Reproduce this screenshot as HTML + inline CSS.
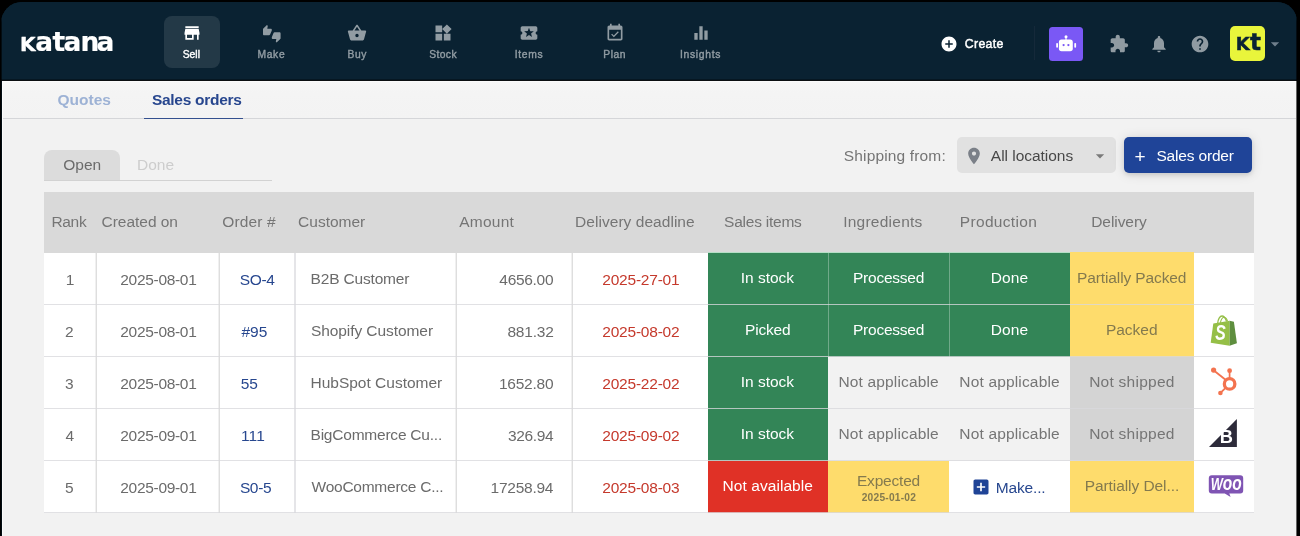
<!DOCTYPE html>
<html lang="en">
<head>
<meta charset="utf-8">
<title>Katana - Sales orders</title>
<style>
*{box-sizing:border-box;margin:0;padding:0}
html,body{width:1300px;height:536px;overflow:hidden;background:#000}
body{font-family:"Liberation Sans",sans-serif;position:relative}
.app{position:absolute;left:1px;top:2px;width:1296px;height:540px;border-radius:21px 20px 0 0;overflow:hidden;background:#0a2232}
.pg{position:absolute;left:-1px;top:-2px;width:1300px;height:542px}
.t{position:absolute;white-space:nowrap;line-height:20px}
.b{position:absolute}
svg{display:block;position:absolute;overflow:visible}
</style>
</head>
<body>
<div class="app"><div class="pg">
<div class="b" style="left:0px;top:0px;width:1300px;height:80px;background:#0a2232;"></div>
<div class="b" style="left:0px;top:79px;width:1300px;height:1px;background:rgba(0,0,0,.3);"></div>
<div class="b" style="left:0px;top:80px;width:1300px;height:1px;background:#0c0f12;"></div>
<div class="b" style="left:2px;top:81px;width:1295px;height:460px;background:#f2f2f2;border:1px solid #fbfbfb;border-bottom:0;"></div>
<svg width="140" height="80" style="left:0;top:0"><text y="50.6" x="20 35.2 52.6 63.4 80.6 96.6" font-family="'DejaVu Sans','Liberation Sans',sans-serif" font-weight="bold" font-size="26.4" fill="#fff" stroke="#fff" stroke-width=".2" stroke-linejoin="round"><tspan font-size="28.6" stroke-width=".35" style="font-variant-caps:small-caps">k</tspan>atana</text></svg>
<div class="b" style="left:164px;top:16px;width:56px;height:52px;background:rgba(255,255,255,.105);border-radius:8px;"></div>
<svg viewBox="0 0 24 24" width="20" height="20" style="left:182px;top:23px;fill:#fff;"><path d="M20 4H4v2h16V4zm1 10v-2l-1-5H4l-1 5v2h1v6h10v-6h4v6h2v-6h1zm-9 4H6v-4h6v4z"/></svg>
<div class="t" style="left:182.65px;top:44.8px;font-size:10.3px;letter-spacing:0.05px;color:#fff;-webkit-text-stroke:.4px #fff;">Sell</div>
<svg viewBox="0 0 24 24" width="17.6" height="17.6" style="left:262.7px;top:24.6px;fill:#919ca3;"><path d="M12 6c0-.55-.45-1-1-1H5.82l.66-3.18.02-.23c0-.31-.13-.59-.33-.8L5.38 0 .44 4.94C.17 5.21 0 5.59 0 6v6.5c0 .83.67 1.5 1.5 1.5h6.75c.62 0 1.15-.38 1.38-.91l2.26-5.29c.07-.17.11-.36.11-.55V6zm10.5 4h-6.75c-.62 0-1.15.38-1.38.91l-2.26 5.29c-.07.17-.11.36-.11.55V18c0 .55.45 1 1 1h5.18l-.66 3.18-.02.24c0 .31.13.59.33.8l.79.78 4.94-4.94c.27-.27.44-.65.44-1.06v-6.5c0-.83-.67-1.5-1.5-1.5z"/></svg>
<div class="t" style="left:257.42px;top:44.8px;font-size:10.3px;letter-spacing:0.7px;color:#919ca3;-webkit-text-stroke:.4px #919ca3;">Make</div>
<svg viewBox="0 0 24 24" width="20" height="20" style="left:347.4px;top:23px;fill:#919ca3;"><path d="M17.21 9l-4.38-6.56c-.19-.28-.51-.42-.83-.42-.32 0-.64.14-.83.43L6.79 9H2c-.55 0-1 .45-1 1 0 .09.01.18.04.27l2.54 9.27c.23.84 1 1.46 1.92 1.46h13c.92 0 1.69-.62 1.93-1.46l2.54-9.27L23 10c0-.55-.45-1-1-1h-4.79zM9 9l3-4.4L15 9H9zm3 8c-1.1 0-2-.9-2-2s.9-2 2-2 2 .9 2 2-.9 2-2 2z"/></svg>
<div class="t" style="left:347.46px;top:44.8px;font-size:10.3px;letter-spacing:0.64px;color:#919ca3;-webkit-text-stroke:.4px #919ca3;">Buy</div>
<svg viewBox="0 0 24 24" width="20" height="20" style="left:433px;top:23px;fill:#919ca3;"><path d="M13 13v8h8v-8h-8zM3 21h8v-8H3v8zM3 3v8h8V3H3zm13.66-1.31L11 7.34 16.66 13l5.66-5.66-5.66-5.65z"/></svg>
<div class="t" style="left:429.15px;top:44.8px;font-size:10.3px;letter-spacing:0.42px;color:#919ca3;-webkit-text-stroke:.4px #919ca3;">Stock</div>
<svg viewBox="0 0 24 24" width="20" height="20" style="left:519px;top:23px;fill:#919ca3;"><path d="M20 12c0-1.1.9-2 2-2V6c0-1.1-.9-2-2-2H4c-1.1 0-1.99.9-1.99 2v4c1.1 0 1.99.9 1.99 2s-.89 2-2 2v4c0 1.1.9 2 2 2h16c1.1 0 2-.9 2-2v-4c-1.1 0-2-.9-2-2zm-4.42 4.8L12 14.5l-3.58 2.3 1.08-4.12-3.29-2.69 4.24-.25L12 5.8l1.54 3.95 4.24.25-3.29 2.69 1.09 4.11z"/></svg>
<div class="t" style="left:514.69px;top:44.8px;font-size:10.3px;letter-spacing:0.7px;color:#919ca3;-webkit-text-stroke:.4px #919ca3;">Items</div>
<svg viewBox="0 0 24 24" width="20" height="20" style="left:604.5px;top:23px;fill:#919ca3;"><path d="M16.53 11.06L15.47 10l-4.88 4.88-2.12-2.12-1.06 1.06L10.59 17l5.94-5.94zM19 3h-1V1h-2v2H8V1H6v2H5c-1.11 0-1.99.9-1.99 2L3 19c0 1.1.89 2 2 2h14c1.1 0 2-.9 2-2V5c0-1.1-.9-2-2-2zm0 16H5V8h14v11z"/></svg>
<div class="t" style="left:603.36px;top:44.8px;font-size:10.3px;letter-spacing:0.49px;color:#919ca3;-webkit-text-stroke:.4px #919ca3;">Plan</div>
<svg viewBox="0 0 24 24" width="20" height="20" style="left:690.5px;top:23px;fill:#919ca3;"><path d="M10 20h4V4h-4v16zm-6 0h4v-8H4v8zM16 9v11h4V9h-4z"/></svg>
<div class="t" style="left:680.06px;top:44.8px;font-size:10.3px;letter-spacing:0.69px;color:#919ca3;-webkit-text-stroke:.4px #919ca3;">Insights</div>
<svg viewBox="0 0 24 24" width="18" height="18" style="left:940.4px;top:34.7px;fill:#fff;"><path d="M12 2C6.48 2 2 6.48 2 12s4.48 10 10 10 10-4.48 10-10S17.52 2 12 2zm5 11h-4v4h-2v-4H7v-2h4V7h2v4h4v2z"/></svg>
<div class="t" style="left:964.75px;top:33.9px;font-size:12.3px;letter-spacing:0.34px;color:#fff;-webkit-text-stroke:.45px #fff;">Create</div>
<div class="b" style="left:1034px;top:26px;width:1px;height:34px;background:#15293a;"></div>
<div class="b" style="left:1049px;top:26.5px;width:34px;height:34px;background:#7a58f5;border-radius:3.5px;"></div>
<svg width="34" height="34" viewBox="1049 26.5 34 34" style="left:1049px;top:26.5px"><g fill="#fff"><circle cx="1066" cy="36.3" r="1.5"/><rect x="1065.45" y="36.5" width="1.1" height="3"/><rect x="1058.9" y="39.1" width="13.9" height="11.6" rx="2.6"/><rect x="1056.2" y="42.4" width="1.8" height="4.8" rx=".9"/><rect x="1074.3" y="42.4" width="1.8" height="4.8" rx=".9"/></g><g fill="#7a58f5"><circle cx="1063.6" cy="44.6" r="1.15"/><circle cx="1068.4" cy="44.6" r="1.15"/></g></svg>

<svg viewBox="0 0 24 24" width="20" height="20" style="left:1108.5px;top:34px;fill:rgba(255,255,255,.55);"><path d="M20.5 11H19V7c0-1.1-.9-2-2-2h-4V3.5C13 2.12 11.88 1 10.5 1S8 2.12 8 3.5V5H4c-1.1 0-1.99.9-1.99 2v3.8H3.5c1.49 0 2.7 1.21 2.7 2.7s-1.21 2.7-2.7 2.7H2V20c0 1.1.9 2 2 2h3.8v-1.5c0-1.49 1.21-2.7 2.7-2.7 1.49 0 2.7 1.21 2.7 2.7V22H17c1.1 0 2-.9 2-2v-4h1.5c1.38 0 2.5-1.12 2.5-2.5S21.88 11 20.5 11z"/></svg>
<svg viewBox="0 0 24 24" width="20" height="20" style="left:1148.5px;top:33.5px;fill:rgba(255,255,255,.55);"><path d="M12 22c1.1 0 2-.9 2-2h-4c0 1.1.89 2 2 2zm6-6v-5c0-3.07-1.64-5.64-4.5-6.32V4c0-.83-.67-1.5-1.5-1.5s-1.5.67-1.5 1.5v.68C7.63 5.36 6 7.92 6 11v5l-2 2v1h16v-1l-2-2z"/></svg>
<svg viewBox="0 0 24 24" width="20" height="20" style="left:1189.5px;top:33.5px;fill:rgba(255,255,255,.55);"><path d="M12 2C6.48 2 2 6.48 2 12s4.48 10 10 10 10-4.48 10-10S17.52 2 12 2zm1 17h-2v-2h2v2zm2.07-7.75l-.9.92C13.45 12.9 13 13.5 13 15h-2v-.5c0-1.1.45-2.1 1.17-2.83l1.24-1.26c.37-.36.59-.86.59-1.41 0-1.1-.9-2-2-2s-2 .9-2 2H8c0-2.21 1.79-4 4-4s4 1.79 4 4c0 .88-.36 1.68-.93 2.25z"/></svg>
<div class="b" style="left:1230px;top:25.5px;width:34.8px;height:35px;background:#e9f53b;border-radius:5px;"></div>
<svg width="40" height="40" style="left:1228px;top:23px"><text x="7.7 22" y="27" font-family="'DejaVu Sans','Liberation Sans',sans-serif" font-weight="bold" font-size="23" fill="#0a2233" stroke="#0a2233" stroke-width=".5"><tspan font-size="26.3" style="font-variant-caps:small-caps">k</tspan>t</text></svg>
<svg viewBox="0 0 24 24" width="20" height="20" style="left:1265.4px;top:33.9px;fill:#6f7f8c;"><path d="M7 10l5 5 5-5z"/></svg>
<div class="b" style="left:3px;top:82px;width:1293px;height:36px;background:linear-gradient(#f7f7f7,#f4f4f4 30%,#f3f3f3);"></div>
<div class="b" style="left:3px;top:118px;width:1293px;height:1px;background:#d5d6d9;"></div>
<div class="t" style="left:57.48px;top:90.4px;font-size:15.5px;font-weight:700;letter-spacing:0.01px;color:#9db2d5;">Quotes</div>
<div class="t" style="left:151.93px;top:90.4px;font-size:15.5px;font-weight:700;letter-spacing:-0.28px;color:#27468e;">Sales orders</div>
<div class="b" style="left:144px;top:117.6px;width:99px;height:1.4px;background:#34508f;"></div>
<div class="b" style="left:44px;top:150px;width:76.3px;height:30.5px;background:#dcdcdc;border-radius:8px 8px 0 0;"></div>
<div class="b" style="left:44px;top:180px;width:228px;height:1px;background:#d2d2d2;"></div>
<div class="t" style="left:63.21px;top:154.9px;font-size:15.5px;color:#6b6b6b;">Open</div>
<div class="t" style="left:136.92px;top:154.9px;font-size:15.5px;letter-spacing:0.03px;color:#cdcdcd;">Done</div>
<div class="t" style="left:843.8px;top:146.2px;font-size:15.5px;letter-spacing:0.15px;color:#757575;">Shipping from:</div>
<div class="b" style="left:957px;top:137px;width:158.5px;height:36px;background:#e1e1e1;border-radius:5px;"></div>
<svg viewBox="0 0 24 24" width="20" height="20" style="left:964.2px;top:146px;fill:#7b8088;"><path d="M12 2C8.13 2 5 5.13 5 9c0 5.25 7 13 7 13s7-7.75 7-13c0-3.87-3.13-7-7-7zm0 9.5c-1.38 0-2.5-1.12-2.5-2.5s1.12-2.5 2.5-2.5 2.5 1.12 2.5 2.5-1.12 2.5-2.5 2.5z"/></svg>
<div class="t" style="left:990.83px;top:146.2px;font-size:15.5px;letter-spacing:-0.03px;color:#484848;">All locations</div>
<svg viewBox="0 0 24 24" width="20" height="20" style="left:1089.6px;top:146px;fill:#7a7a7a;"><path d="M7 10l5 5 5-5z"/></svg>
<div class="b" style="left:1124px;top:136.7px;width:128.3px;height:36px;background:#1f4498;border-radius:5px;box-shadow:0 1px 12px rgba(0,0,0,.13),0 2px 4px rgba(0,0,0,.10);"></div>
<div class="t" style="left:1134.58px;top:146.6px;font-size:19px;color:#fff;">+</div>
<div class="t" style="left:1156.41px;top:146.2px;font-size:15.5px;letter-spacing:-0.17px;color:#fff;">Sales order</div>
<div class="b" style="left:44px;top:192.4px;width:1210px;height:61.6px;background:#d9d9d9;"></div>
<div class="t" style="left:51.5px;top:212.4px;font-size:15.5px;letter-spacing:-0.35px;color:#757575;">Rank</div>
<div class="t" style="left:101.56px;top:212.4px;font-size:15.5px;letter-spacing:-0.03px;color:#757575;">Created on</div>
<div class="t" style="left:222.31px;top:212.4px;font-size:15.5px;letter-spacing:0.11px;color:#757575;">Order #</div>
<div class="t" style="left:298.09px;top:212.4px;font-size:15.5px;color:#757575;">Customer</div>
<div class="t" style="left:459.24px;top:212.4px;font-size:15.5px;letter-spacing:0.24px;color:#757575;">Amount</div>
<div class="t" style="left:575.12px;top:212.4px;font-size:15.5px;letter-spacing:0.04px;color:#757575;">Delivery deadline</div>
<div class="t" style="left:724.12px;top:212.4px;font-size:15.5px;letter-spacing:-0.24px;color:#757575;">Sales items</div>
<div class="t" style="left:843.15px;top:212.4px;font-size:15.5px;letter-spacing:0.25px;color:#757575;">Ingredients</div>
<div class="t" style="left:959.81px;top:212.4px;font-size:15.5px;letter-spacing:0.32px;color:#757575;">Production</div>
<div class="t" style="left:1091.23px;top:212.4px;font-size:15.5px;letter-spacing:-0.06px;color:#757575;">Delivery</div>
<div class="b" style="left:44px;top:253px;width:1210px;height:260px;background:#fff;"></div>
<div class="b" style="left:707.8px;top:253px;width:120.4px;height:52px;background:#338557;"></div>
<div class="b" style="left:828.2px;top:253px;width:121.1px;height:52px;background:#338557;"></div>
<div class="b" style="left:949.3px;top:253px;width:120.8px;height:52px;background:#338557;"></div>
<div class="b" style="left:1070.1px;top:253px;width:123.5px;height:52px;background:#fedc6c;"></div>
<div class="b" style="left:707.8px;top:305px;width:120.4px;height:52px;background:#338557;"></div>
<div class="b" style="left:828.2px;top:305px;width:121.1px;height:52px;background:#338557;"></div>
<div class="b" style="left:949.3px;top:305px;width:120.8px;height:52px;background:#338557;"></div>
<div class="b" style="left:1070.1px;top:305px;width:123.5px;height:52px;background:#fedc6c;"></div>
<div class="b" style="left:707.8px;top:357px;width:120.4px;height:52px;background:#338557;"></div>
<div class="b" style="left:828.2px;top:357px;width:121.1px;height:52px;background:#f2f2f2;"></div>
<div class="b" style="left:949.3px;top:357px;width:120.8px;height:52px;background:#f2f2f2;"></div>
<div class="b" style="left:1070.1px;top:357px;width:123.5px;height:52px;background:#d4d4d4;"></div>
<div class="b" style="left:707.8px;top:409px;width:120.4px;height:52px;background:#338557;"></div>
<div class="b" style="left:828.2px;top:409px;width:121.1px;height:52px;background:#f2f2f2;"></div>
<div class="b" style="left:949.3px;top:409px;width:120.8px;height:52px;background:#f2f2f2;"></div>
<div class="b" style="left:1070.1px;top:409px;width:123.5px;height:52px;background:#d4d4d4;"></div>
<div class="b" style="left:707.8px;top:461px;width:120.4px;height:52px;background:#e03126;"></div>
<div class="b" style="left:828.2px;top:461px;width:121.1px;height:52px;background:#fedc6c;"></div>
<div class="b" style="left:1070.1px;top:461px;width:123.5px;height:52px;background:#fedc6c;"></div>
<div class="b" style="left:708px;top:252px;width:362px;height:1px;background:#b5dfc6;"></div>
<div class="b" style="left:1070px;top:252px;width:123.6px;height:1px;background:#fedc6c;"></div>
<div class="b" style="left:828px;top:253px;width:1px;height:104px;background:rgba(255,255,255,.3);"></div>
<div class="b" style="left:949px;top:253px;width:1px;height:104px;background:rgba(255,255,255,.3);"></div>
<div class="b" style="left:95px;top:253px;width:2px;height:260px;background:linear-gradient(90deg,#f0f0f0 50%,#dedede 50%);"></div>
<div class="b" style="left:218px;top:253px;width:2px;height:260px;background:linear-gradient(90deg,#f0f0f0 50%,#dedede 50%);"></div>
<div class="b" style="left:294px;top:253px;width:2px;height:260px;background:#e5e5e8;"></div>
<div class="b" style="left:455px;top:253px;width:2px;height:260px;background:linear-gradient(90deg,#f0f0f0 50%,#dedede 50%);"></div>
<div class="b" style="left:571px;top:253px;width:2px;height:260px;background:linear-gradient(90deg,#f0f0f0 50%,#dedede 50%);"></div>
<div class="b" style="left:44px;top:304px;width:1210px;height:1px;background:rgba(216,216,220,.78);"></div>
<div class="b" style="left:44px;top:356px;width:1210px;height:1px;background:rgba(216,216,220,.78);"></div>
<div class="b" style="left:44px;top:408px;width:1210px;height:1px;background:rgba(216,216,220,.78);"></div>
<div class="b" style="left:44px;top:460px;width:1210px;height:1px;background:rgba(216,216,220,.78);"></div>
<div class="b" style="left:44px;top:512px;width:1210px;height:1px;background:rgba(216,216,220,.78);"></div>
<div class="t" style="left:65.79px;top:270.4px;font-size:15.5px;color:#6b6b6b;">1</div>
<div class="t" style="left:120.31px;top:270.4px;font-size:15.5px;letter-spacing:-0.31px;color:#6b6b6b;">2025-08-01</div>
<div class="t" style="left:239.76px;top:270.4px;font-size:15.5px;letter-spacing:-0.35px;color:#27478f;">SO-4</div>
<div class="t" style="left:310.52px;top:269.2px;font-size:15.5px;letter-spacing:-0.17px;color:#6b6b6b;">B2B Customer</div>
<div class="t" style="left:499.34px;top:270.4px;font-size:15.5px;letter-spacing:-0.3px;color:#6b6b6b;">4656.00</div>
<div class="t" style="left:602.3px;top:270.4px;font-size:15.5px;letter-spacing:-0.22px;color:#c5392c;">2025-27-01</div>
<div class="t" style="left:740.81px;top:268.2px;font-size:15.5px;letter-spacing:-0.02px;color:#fff;">In stock</div>
<div class="t" style="left:852.98px;top:268.2px;font-size:15.5px;letter-spacing:-0.23px;color:#fff;">Processed</div>
<div class="t" style="left:990.72px;top:268.2px;font-size:15.5px;letter-spacing:0.1px;color:#fff;">Done</div>
<div class="t" style="left:1076.99px;top:268.2px;font-size:15.5px;letter-spacing:-0.11px;color:#847a4e;">Partially Packed</div>
<div class="t" style="left:65.02px;top:322.4px;font-size:15.5px;color:#6b6b6b;">2</div>
<div class="t" style="left:120.31px;top:322.4px;font-size:15.5px;letter-spacing:-0.31px;color:#6b6b6b;">2025-08-01</div>
<div class="t" style="left:241.42px;top:322.4px;font-size:15.5px;color:#27478f;">#95</div>
<div class="t" style="left:310.93px;top:321.2px;font-size:15.5px;letter-spacing:-0.07px;color:#6b6b6b;">Shopify Customer</div>
<div class="t" style="left:507.46px;top:322.4px;font-size:15.5px;letter-spacing:-0.21px;color:#6b6b6b;">881.32</div>
<div class="t" style="left:602.31px;top:322.4px;font-size:15.5px;letter-spacing:-0.22px;color:#c5392c;">2025-08-02</div>
<div class="t" style="left:744.96px;top:320.2px;font-size:15.5px;letter-spacing:-0.16px;color:#fff;">Picked</div>
<div class="t" style="left:852.98px;top:320.2px;font-size:15.5px;letter-spacing:-0.23px;color:#fff;">Processed</div>
<div class="t" style="left:990.72px;top:320.2px;font-size:15.5px;letter-spacing:0.1px;color:#fff;">Done</div>
<div class="t" style="left:1105.91px;top:320.2px;font-size:15.5px;color:#847a4e;">Packed</div>
<div class="t" style="left:65.06px;top:374.4px;font-size:15.5px;color:#6b6b6b;">3</div>
<div class="t" style="left:120.31px;top:374.4px;font-size:15.5px;letter-spacing:-0.31px;color:#6b6b6b;">2025-08-01</div>
<div class="t" style="left:240.64px;top:374.4px;font-size:15.5px;letter-spacing:-0.06px;color:#27478f;">55</div>
<div class="t" style="left:310.48px;top:373.2px;font-size:15.5px;color:#6b6b6b;">HubSpot Customer</div>
<div class="t" style="left:498.88px;top:374.4px;font-size:15.5px;letter-spacing:-0.22px;color:#6b6b6b;">1652.80</div>
<div class="t" style="left:602.31px;top:374.4px;font-size:15.5px;letter-spacing:-0.22px;color:#c5392c;">2025-22-02</div>
<div class="t" style="left:740.81px;top:372.2px;font-size:15.5px;letter-spacing:-0.02px;color:#fff;">In stock</div>
<div class="t" style="left:838.38px;top:372.2px;font-size:15.5px;letter-spacing:0.16px;color:#757575;">Not applicable</div>
<div class="t" style="left:959.33px;top:372.2px;font-size:15.5px;letter-spacing:0.16px;color:#757575;">Not applicable</div>
<div class="t" style="left:1089.16px;top:372.2px;font-size:15.5px;letter-spacing:0.25px;color:#757575;">Not shipped</div>
<div class="t" style="left:65.43px;top:426.4px;font-size:15.5px;color:#6b6b6b;">4</div>
<div class="t" style="left:120.31px;top:426.4px;font-size:15.5px;letter-spacing:-0.31px;color:#6b6b6b;">2025-09-01</div>
<div class="t" style="left:241.0px;top:426.4px;font-size:15.5px;letter-spacing:0.13px;color:#27478f;">111</div>
<div class="t" style="left:310.52px;top:425.2px;font-size:15.5px;letter-spacing:-0.22px;color:#6b6b6b;">BigCommerce Cu...</div>
<div class="t" style="left:507.9px;top:426.4px;font-size:15.5px;letter-spacing:-0.35px;color:#6b6b6b;">326.94</div>
<div class="t" style="left:602.31px;top:426.4px;font-size:15.5px;letter-spacing:-0.22px;color:#c5392c;">2025-09-02</div>
<div class="t" style="left:740.81px;top:424.2px;font-size:15.5px;letter-spacing:-0.02px;color:#fff;">In stock</div>
<div class="t" style="left:838.38px;top:424.2px;font-size:15.5px;letter-spacing:0.16px;color:#757575;">Not applicable</div>
<div class="t" style="left:959.33px;top:424.2px;font-size:15.5px;letter-spacing:0.16px;color:#757575;">Not applicable</div>
<div class="t" style="left:1089.16px;top:424.2px;font-size:15.5px;letter-spacing:0.25px;color:#757575;">Not shipped</div>
<div class="t" style="left:64.95px;top:478.4px;font-size:15.5px;color:#6b6b6b;">5</div>
<div class="t" style="left:120.31px;top:478.4px;font-size:15.5px;letter-spacing:-0.31px;color:#6b6b6b;">2025-09-01</div>
<div class="t" style="left:239.88px;top:478.4px;font-size:15.5px;letter-spacing:-0.35px;color:#27478f;">S0-5</div>
<div class="t" style="left:311.56px;top:477.2px;font-size:15.5px;letter-spacing:-0.25px;color:#6b6b6b;">WooCommerce C...</div>
<div class="t" style="left:490.58px;top:478.4px;font-size:15.5px;letter-spacing:-0.25px;color:#6b6b6b;">17258.94</div>
<div class="t" style="left:602.31px;top:478.4px;font-size:15.5px;letter-spacing:-0.22px;color:#c5392c;">2025-08-03</div>
<div class="t" style="left:722.57px;top:476.2px;font-size:15.5px;letter-spacing:0.06px;color:#fff;">Not available</div>
<div class="t" style="left:856.93px;top:471px;font-size:15.5px;letter-spacing:-0.19px;color:#847a4e;">Expected</div>
<div class="t" style="left:861.71px;top:488.4px;font-size:10.2px;font-weight:700;letter-spacing:0.23px;color:#847a4e;">2025-01-02</div>
<svg viewBox="0 0 24 24" width="20" height="20" style="left:970.7px;top:477.4px;fill:#1f4396;"><path d="M19 3H5c-1.11 0-2 .9-2 2v14c0 1.1.89 2 2 2h14c1.1 0 2-.9 2-2V5c0-1.1-.9-2-2-2zm-2 10h-4v4h-2v-4H7v-2h4V7h2v4h4v2z"/></svg>
<div class="t" style="left:995.72px;top:478.4px;font-size:15.5px;letter-spacing:-0.15px;color:#27478f;">Make...</div>
<div class="t" style="left:1084.67px;top:476.2px;font-size:15.5px;letter-spacing:-0.07px;color:#847a4e;">Partially Del...</div>
<svg width="34" height="36" viewBox="1206 312 34 36" style="left:1206px;top:312px"><path d="M1217.7 323.4c.2-4.200 2.200-7.400 4.300-7.400 1.900 0 3.400 2.100 4.600 5.500" fill="none" stroke="#95bf47" stroke-width="1.300"/><path d="M1220.400 322.800c.6-3.600 2.400-5.900 4.100-5.600 1.300.2 2.300 1.600 3 3.800" fill="none" stroke="#95bf47" stroke-width="1.100"/><path d="M1213.300 323.500l16.300-2.700v25l-18.900-3z" fill="#95bf47"/><path d="M1229.600 320.800l4.300.9 3 21.500-7.300 2.600z" fill="#5e8e3e"/><text x="1215.200" y="340.200" font-family="'Liberation Sans',sans-serif" font-weight="bold" font-style="italic" font-size="21.500" fill="#fff" textLength="10.500" lengthAdjust="spacingAndGlyphs">S</text></svg>
<svg width="34" height="34" viewBox="1206 364 34 34" style="left:1206px;top:364px"><g fill="#f3734f"><circle cx="1213.600" cy="370.100" r="2.600"/><circle cx="1229.600" cy="370.700" r="2.400"/><circle cx="1220.400" cy="393" r="2.300"/></g><g fill="none" stroke="#f3734f"><circle cx="1229.600" cy="383.900" r="5.250" stroke-width="3.300"/><path d="M1229.600 371v7" stroke-width="1.700"/><path d="M1214.200 370.700l11.300 9" stroke-width="1.800"/><path d="M1221 392.400l4.600-4.600" stroke-width="1.800"/></g></svg>
<svg width="34" height="34" viewBox="1206 416 34 34" style="left:1206px;top:416px"><path d="M1236.900 419v28h-27.900z" fill="#2d2b3a"/><text x="1219.700" y="443.300" font-family="'Liberation Sans',sans-serif" font-weight="bold" font-size="18.600" fill="#fff" textLength="13.200" lengthAdjust="spacingAndGlyphs">B</text></svg>
<svg width="40" height="30" viewBox="1206 470 40 30" style="left:1206px;top:470px"><path d="M1211.800 475.200h28.400a3 3 0 0 1 3 3v12.400a3 3 0 0 1-3 3h-10.900l1.300 3.500-5.800-3.500h-13a3 3 0 0 1-3-3v-12.400a3 3 0 0 1 3-3z" fill="#7f54b3"/><text x="1210.700" y="490.200" font-family="'Liberation Sans',sans-serif" font-weight="bold" font-style="italic" fill="#fff" font-size="17" textLength="31" lengthAdjust="spacingAndGlyphs">W<tspan font-size="20.500">oo</tspan></text></svg>

<div class="b" style="left:1px;top:0px;width:1px;height:542px;background:rgba(0,0,0,.62);"></div>
<div class="b" style="left:1296px;top:0px;width:1px;height:542px;background:rgba(0,0,0,.6);"></div>
</div></div>
</body>
</html>
